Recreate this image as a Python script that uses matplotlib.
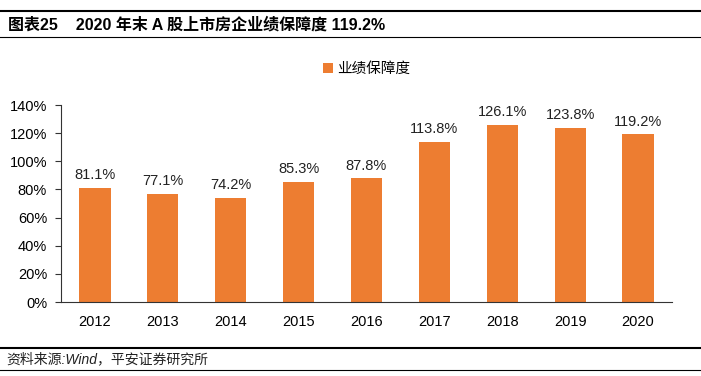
import matplotlib
matplotlib.use("Agg")
import matplotlib.pyplot as plt
from matplotlib.lines import Line2D
from matplotlib.ticker import FuncFormatter

years = ["2012", "2013", "2014", "2015", "2016", "2017", "2018", "2019", "2020"]
values = [81.1, 77.1, 74.2, 85.3, 87.8, 113.8, 126.1, 123.8, 119.2]
series_name = "业绩保障度"
title = "图表25    2020 年末 A 股上市房企业绩保障度 119.2%"
source = "资料来源:Wind，平安证券研究所"

FAM = ["Liberation Sans", "Noto Sans CJK SC", "DejaVu Sans"]
plt.rcParams["font.family"] = FAM
color = "#ED7D31"

W, H = 701, 376
fig = plt.figure(figsize=(W / 100, H / 100), dpi=100)

ax = fig.add_axes([61 / W, 1 - 302 / H, (672 - 61) / W, (302 - 105) / H])
x = list(range(len(years)))
bars = ax.bar(x, values, width=0.46, color=color, label=series_name, zorder=2)
for xi, v in zip(x, values):
    ax.text(xi, v + 4, f"{v:.1f}%", ha="center", va="bottom", fontsize=10.5, color="#222222")
ax.set_ylim(0, 140)
ax.set_yticks(range(0, 141, 20))
ax.yaxis.set_major_formatter(FuncFormatter(lambda v, p: f"{int(v)}%"))
ax.set_xlim(-0.5, len(years) - 0.5)
ax.set_xticks(x)
ax.set_xticklabels(years)
for s in ["top", "right"]:
    ax.spines[s].set_visible(False)
ax.spines["left"].set_color("#333333")
ax.spines["bottom"].set_color("#333333")
ax.tick_params(axis="y", length=4, color="#333333", labelsize=10.5, pad=6)
ax.tick_params(axis="x", length=0, labelsize=10.5, pad=9)

ax.legend(loc="lower center", bbox_to_anchor=(0.5, 1.08), frameon=False, fontsize=10.5,
          handlelength=0.7, handleheight=0.7, handletextpad=0.3)

# header / footer decorations
fig.add_artist(Line2D([0, 1], [1 - 11 / H, 1 - 11 / H], color="black", lw=1.5))
fig.add_artist(Line2D([0, 1], [1 - 37 / H, 1 - 37 / H], color="black", lw=0.8))
fig.text(8 / W, 1 - 25 / H, title, fontsize=11.5, fontweight="bold", va="center", ha="left")
fig.add_artist(Line2D([0, 1], [1 - 348 / H, 1 - 348 / H], color="black", lw=1.5))
fig.add_artist(Line2D([0, 1], [1 - 370 / H, 1 - 370 / H], color="black", lw=0.8))
fig.text(6 / W, 1 - 359 / H, source, fontsize=10, style="italic", va="center", ha="left", color="#222222")

fig.savefig("out.png", dpi=100)
